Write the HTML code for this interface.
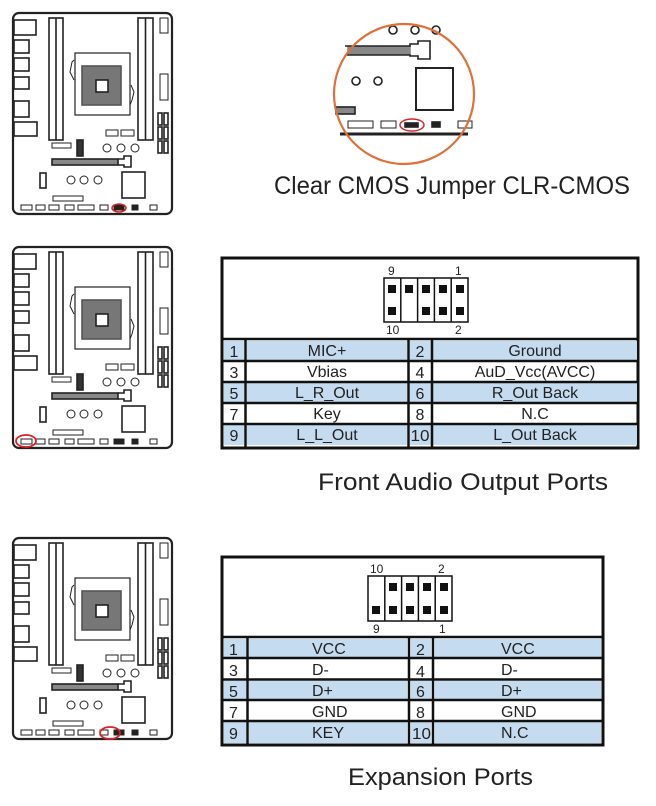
<!DOCTYPE html>
<html><head><meta charset="utf-8"><style>
html,body{margin:0;padding:0;background:#fff}
svg{display:block}
text{font-family:"Liberation Sans",sans-serif;fill:#222}
</style></head><body>
<svg width="656" height="806" viewBox="0 0 656 806" xmlns="http://www.w3.org/2000/svg">
<defs>
<g id="board" fill="none" stroke="#222" stroke-width="1.6">
  <rect x="13" y="13" width="159" height="201" rx="6" stroke-width="2.2"/>
  <rect x="14" y="20" width="22" height="15"/>
  <rect x="14" y="40" width="15" height="13"/>
  <rect x="14" y="58" width="15" height="13"/>
  <rect x="14" y="77" width="15" height="12"/>
  <rect x="14" y="101" width="15" height="16"/>
  <rect x="14" y="122" width="23" height="14"/>
  <rect x="49" y="18" width="14" height="122"/><line x1="56" y1="18" x2="56" y2="140"/>
  <rect x="138" y="18" width="15" height="122"/><line x1="145.5" y1="18" x2="145.5" y2="140"/>
  <rect x="160" y="18" width="8" height="15" stroke-width="1"/>
  <rect x="160" y="74" width="8" height="26" stroke-width="1"/>
  <rect x="158" y="113" width="4" height="12"/><rect x="164" y="113" width="4" height="12"/>
  <rect x="158" y="127" width="4" height="12"/><rect x="164" y="127" width="4" height="12"/>
  <rect x="158" y="141" width="4" height="12"/><rect x="164" y="141" width="4" height="12"/>
  <rect x="75" y="53" width="55" height="62" stroke-width="1.2"/>
  <rect x="82" y="66" width="39" height="39" fill="#777" stroke="#555"/>
  <rect x="96" y="80" width="12" height="12" fill="#fff"/>
  <path d="M74 60 L72 62 L70 72 L74 80" stroke-width="1"/><path d="M130 105 L132 100 L134 92 L131 85" stroke-width="1"/>
  <rect x="106" y="130" width="12" height="6" stroke-width="1"/><rect x="121" y="130" width="13" height="6" stroke-width="1"/>
  <rect x="52" y="143" width="19" height="5" stroke-width="1"/>
  <rect x="77" y="140" width="6" height="16" fill="#333"/>
  <circle cx="107" cy="148" r="4" stroke-width="1"/><circle cx="121" cy="148" r="4" stroke-width="1"/><circle cx="135" cy="148" r="4" stroke-width="1"/>
  <rect x="52" y="159" width="66" height="6" fill="#888"/>
  <path d="M118 159 H124 V156 H131 V167 H124 V165 H118"/>
  <rect x="40" y="173" width="6" height="15"/>
  <circle cx="71" cy="180" r="4" stroke-width="1"/><circle cx="84" cy="180" r="4" stroke-width="1"/><circle cx="98" cy="180" r="4" stroke-width="1"/>
  <rect x="122" y="172" width="23" height="26"/>
  <rect x="53" y="196" width="30" height="5" stroke-width="1"/>
  <g stroke-width="1">
  <rect x="21" y="205" width="11" height="5"/><rect x="36" y="205" width="9" height="5"/><rect x="49" y="205" width="10" height="5"/>
  <rect x="65" y="205" width="9" height="5"/><rect x="78" y="205" width="16" height="5"/><rect x="100" y="205" width="8" height="5"/>
  <rect x="114" y="205" width="10" height="5" fill="#222"/><rect x="132" y="205" width="6" height="5" fill="#222"/><rect x="150" y="205" width="7" height="5"/>
  </g>
</g>
</defs>
<use href="#board"/>
<ellipse cx="119" cy="208" rx="7" ry="4" fill="none" stroke="#d22" stroke-width="1.5"/>
<use href="#board" transform="translate(0,234)"/>
<ellipse cx="26" cy="441" rx="10" ry="6" fill="none" stroke="#d22" stroke-width="1.8"/>
<use href="#board" transform="translate(0,525)"/>
<ellipse cx="110" cy="733" rx="10" ry="6" fill="none" stroke="#d22" stroke-width="1.8"/>

<!-- zoom circle -->
<g fill="none" stroke="#222" stroke-width="1.6">
  <circle cx="393" cy="30" r="4"/><circle cx="415" cy="30" r="4"/><circle cx="436" cy="30" r="4"/>
  <rect x="348" y="47" width="62" height="7" fill="#888" stroke="#888"/>
  <path d="M345 46 H410 V44 H418 V41 H430 V59 H418 V56 H410 V55 H345"/>
  <circle cx="356" cy="81" r="4"/><circle cx="378" cy="81" r="4"/>
  <rect x="416" y="68" width="37" height="42" stroke-width="2"/>
  <rect x="336" y="107" width="19" height="7" fill="#888"/>
  <rect x="348" y="121" width="25" height="7" stroke-width="1"/><rect x="381" y="121" width="15" height="7" stroke-width="1"/>
  <rect x="405" y="123" width="13" height="4" fill="#222"/><rect x="432" y="122" width="8" height="5" fill="#222"/>
  <rect x="458" y="121" width="14" height="7" stroke-width="1"/>
  <line x1="340" y1="134" x2="468" y2="134" stroke-width="3"/>
  <ellipse cx="412" cy="125" rx="12" ry="6" stroke="#d22" stroke-width="1.5"/>
</g>
<circle cx="404" cy="94" r="70" fill="none" stroke="#e0703a" stroke-width="2.2"/>
<text x="274" y="194" font-size="25" textLength="356" lengthAdjust="spacingAndGlyphs">Clear CMOS Jumper CLR-CMOS</text>

<!-- Table 1 -->
<g>
<rect x="222" y="258" width="416" height="190" fill="#fff" stroke="#111" stroke-width="3"/>
<g fill="#c5dbef">
<rect x="247" y="341" width="160" height="19"/><rect x="433" y="341" width="204" height="19"/>
<rect x="247" y="383" width="160" height="19"/><rect x="433" y="383" width="204" height="19"/>
<rect x="247" y="425" width="160" height="20"/><rect x="433" y="425" width="204" height="20"/>
<rect x="224" y="341" width="20" height="19"/><rect x="410" y="341" width="21" height="19"/>
<rect x="224" y="383" width="20" height="19"/><rect x="410" y="383" width="21" height="19"/>
<rect x="224" y="425" width="20" height="20"/><rect x="410" y="425" width="21" height="20"/>
</g>
<g stroke="#111" stroke-width="2.5">
<line x1="222" y1="339" x2="638" y2="339"/><line x1="222" y1="361" x2="638" y2="361"/>
<line x1="222" y1="382" x2="638" y2="382"/><line x1="222" y1="403" x2="638" y2="403"/>
<line x1="222" y1="424" x2="638" y2="424"/>
<line x1="245.5" y1="339" x2="245.5" y2="448"/><line x1="408.5" y1="339" x2="408.5" y2="448"/><line x1="432" y1="339" x2="432" y2="448"/>
</g>
<g fill="none" stroke="#111" stroke-width="1.5">
<rect x="384" y="278" width="84" height="44"/>
<line x1="400.8" y1="278" x2="400.8" y2="322"/><line x1="417.6" y1="278" x2="417.6" y2="322"/>
<line x1="434.4" y1="278" x2="434.4" y2="322"/><line x1="451.2" y1="278" x2="451.2" y2="322"/>
</g>
<g fill="#111">
<rect x="388" y="285" width="8" height="8"/><rect x="405" y="285" width="8" height="8"/><rect x="422" y="285" width="8" height="8"/><rect x="439" y="285" width="8" height="8"/><rect x="456" y="285" width="8" height="8"/>
<rect x="388" y="307" width="8" height="8"/><rect x="422" y="307" width="8" height="8"/><rect x="439" y="307" width="8" height="8"/><rect x="456" y="307" width="8" height="8"/>
</g>
<g font-size="12"><text x="388" y="275">9</text><text x="455" y="275">1</text><text x="386" y="334">10</text><text x="455" y="334">2</text></g>
<g font-size="16" text-anchor="middle">
<text x="234" y="357">1</text><text x="327" y="356">MIC+</text><text x="420" y="357">2</text><text x="535" y="356">Ground</text>
<text x="234" y="378">3</text><text x="327" y="377">Vbias</text><text x="420" y="378">4</text><text x="535" y="377">AuD_Vcc(AVCC)</text>
<text x="234" y="399">5</text><text x="327" y="398">L_R_Out</text><text x="420" y="399">6</text><text x="535" y="398">R_Out Back</text>
<text x="234" y="420">7</text><text x="327" y="419">Key</text><text x="420" y="420">8</text><text x="535" y="419">N.C</text>
<text x="234" y="441">9</text><text x="327" y="440">L_L_Out</text><text x="420" y="441" textLength="19" lengthAdjust="spacingAndGlyphs">10</text><text x="535" y="440">L_Out Back</text>
</g>
</g>
<text x="318" y="490" font-size="24" textLength="290" lengthAdjust="spacingAndGlyphs">Front Audio Output Ports</text>

<!-- Table 2 -->
<g>
<rect x="222" y="557" width="381" height="188" fill="#fff" stroke="#111" stroke-width="3"/>
<g fill="#c5dbef">
<rect x="249" y="639" width="158" height="18"/><rect x="435" y="639" width="166" height="18"/>
<rect x="249" y="681" width="158" height="18"/><rect x="435" y="681" width="166" height="18"/>
<rect x="249" y="722" width="158" height="21"/><rect x="435" y="722" width="166" height="21"/>
<rect x="224" y="639" width="22" height="18"/><rect x="411" y="639" width="20" height="18"/>
<rect x="224" y="681" width="22" height="18"/><rect x="411" y="681" width="20" height="18"/>
<rect x="224" y="722" width="22" height="21"/><rect x="411" y="722" width="20" height="21"/>
</g>
<g stroke="#111" stroke-width="2.5">
<line x1="222" y1="637" x2="603" y2="637"/><line x1="222" y1="658" x2="603" y2="658"/>
<line x1="222" y1="679.5" x2="603" y2="679.5"/><line x1="222" y1="700" x2="603" y2="700"/>
<line x1="222" y1="721" x2="603" y2="721"/>
<line x1="247.5" y1="637" x2="247.5" y2="745"/><line x1="409" y1="637" x2="409" y2="745"/><line x1="433" y1="637" x2="433" y2="745"/>
</g>
<g fill="none" stroke="#111" stroke-width="1.5">
<rect x="368" y="576" width="84" height="45"/>
<line x1="384.8" y1="576" x2="384.8" y2="621"/><line x1="401.6" y1="576" x2="401.6" y2="621"/>
<line x1="418.4" y1="576" x2="418.4" y2="621"/><line x1="435.2" y1="576" x2="435.2" y2="621"/>
</g>
<g fill="#111">
<rect x="389" y="583" width="8" height="8"/><rect x="406" y="583" width="8" height="8"/><rect x="423" y="583" width="8" height="8"/><rect x="440" y="583" width="8" height="8"/>
<rect x="372" y="606" width="8" height="8"/><rect x="389" y="606" width="8" height="8"/><rect x="406" y="606" width="8" height="8"/><rect x="423" y="606" width="8" height="8"/><rect x="440" y="606" width="8" height="8"/>
</g>
<g font-size="12"><text x="370" y="573">10</text><text x="438" y="573">2</text><text x="373" y="633">9</text><text x="439" y="633">1</text></g>
<g font-size="16">
<text x="229" y="655">1</text><text x="312" y="654">VCC</text><text x="416" y="655">2</text><text x="501" y="654">VCC</text>
<text x="229" y="676">3</text><text x="312" y="675">D-</text><text x="416" y="677">4</text><text x="501" y="675">D-</text>
<text x="229" y="697">5</text><text x="312" y="696">D+</text><text x="416" y="697">6</text><text x="501" y="696">D+</text>
<text x="229" y="718">7</text><text x="312" y="717">GND</text><text x="416" y="718">8</text><text x="501" y="717">GND</text>
<text x="229" y="739">9</text><text x="312" y="738">KEY</text><text x="412" y="739" textLength="19" lengthAdjust="spacingAndGlyphs">10</text><text x="501" y="738">N.C</text>
</g>
</g>
<text x="348" y="785" font-size="24" textLength="185" lengthAdjust="spacingAndGlyphs">Expansion Ports</text>
</svg>
</body></html>
